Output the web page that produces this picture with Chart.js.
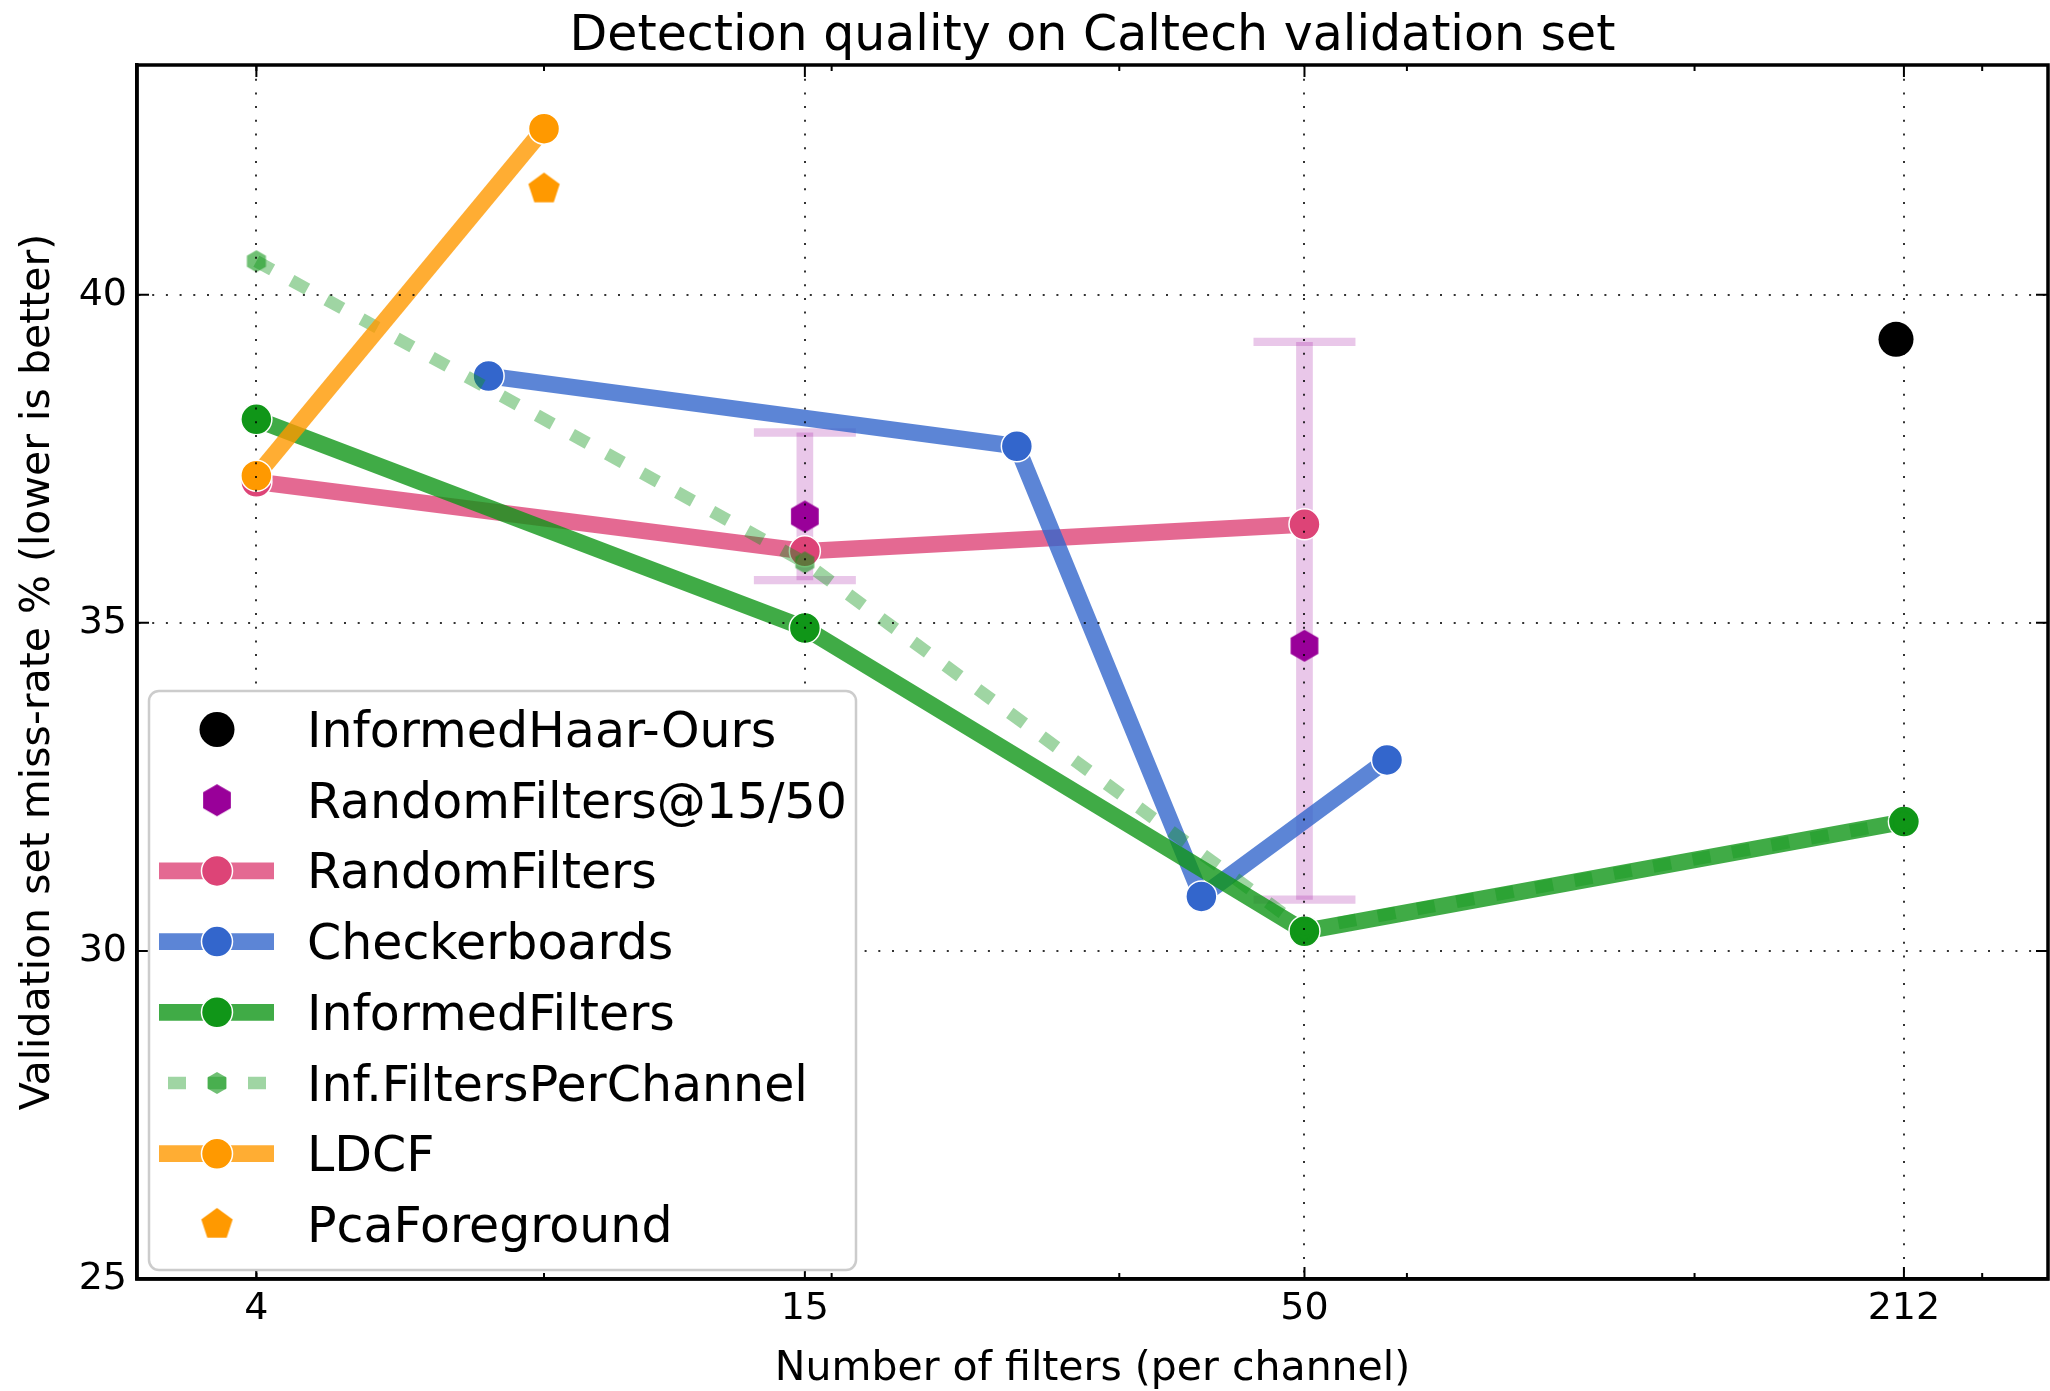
<!DOCTYPE html>
<html>
<head>
<meta charset="utf-8">
<script src="https://cdn.jsdelivr.net/npm/chart.js@4.4.0/dist/chart.umd.min.js"></script>
<style>
html, body { margin: 0; padding: 0; background: #ffffff; }
#wrap { width: 2050px; height: 1391px; position: relative; }
</style>
</head>
<body>
<div id="wrap"><canvas id="c" width="2050" height="1391"></canvas></div>
<script>
// ---------------- data ----------------
const titleText = 'Detection quality on Caltech validation set';
const xLabel = 'Number of filters (per channel)';
const yLabel = 'Validation set miss-rate % (lower is better)';

const xTicks = [4, 15, 50, 212];
const xMinorTicks = [4, 8, 16, 32, 64, 128, 256];
const yTicks = [25, 30, 35, 40];
const xRange = [3, 300];
const yRange = [25, 43.5];

const seriesNames = ['InformedHaar-Ours', 'RandomFilters@15/50', 'RandomFilters', 'Checkerboards',
                     'InformedFilters', 'Inf.FiltersPerChannel', 'LDCF', 'PcaForeground'];

const haarX = [208];
const haarY = [39.32];

const randomAtX = [15, 50];
const randomAtY = [36.62, 34.65];
const randomAtLow = [35.65, 30.78];
const randomAtHigh = [37.90, 39.28];

const randomX = [4, 15, 50];
const randomY = [37.15, 36.09, 36.50];

const checkerX = [7, 25, 39, 61];
const checkerY = [38.76, 37.69, 30.83, 32.91];

const informedX = [4, 15, 50, 212];
const informedY = [38.10, 34.92, 30.30, 31.97];

const perChannelX = [4, 15, 50, 212];
const perChannelY = [40.51, 35.92, 30.33, 31.97];

const ldcfX = [4, 8];
const ldcfY = [37.24, 42.53];

const pcaX = [8];
const pcaY = [41.61];

// ---------------- helpers ----------------
const FONT = 'DejaVu Sans';
Chart.defaults.font.family = FONT;

function pts(xs, ys) { return xs.map((x, i) => ({ x: x, y: ys[i] })); }

function polyCanvas(n, r, fill) {
  const pad = 2;
  const size = Math.ceil(2 * r + 2 * pad);
  const c = document.createElement('canvas');
  c.width = size; c.height = size;
  const g = c.getContext('2d');
  g.beginPath();
  for (let k = 0; k < n; k++) {
    const a = -Math.PI / 2 + k * 2 * Math.PI / n;
    const px = size / 2 + r * Math.cos(a), py = size / 2 + r * Math.sin(a);
    if (k === 0) g.moveTo(px, py); else g.lineTo(px, py);
  }
  g.closePath();
  g.fillStyle = fill;
  g.fill();
  return c;
}

const hexPurple = polyCanvas(6, 16, '#990099');
const hexGreenSmall = polyCanvas(6, 11, 'rgba(16,150,24,0.6)');
const pentOrange = polyCanvas(5, 16.5, '#ff9900');

function lineSeries(label, data, lineColor, markColor, order) {
  return {
    label: label, data: data, showLine: true,
    borderColor: lineColor, borderWidth: 16.7,
    borderJoinStyle: 'round', borderCapStyle: 'butt',
    pointStyle: 'circle', pointRadius: 15.5,
    pointBackgroundColor: markColor, pointBorderColor: '#ffffff', pointBorderWidth: 1.5,
    tension: 0, order: order
  };
}

const datasets = [
  { label: seriesNames[0], data: pts(haarX, haarY), showLine: false,
    pointStyle: 'circle', pointRadius: 17.5, pointBackgroundColor: '#000000',
    pointBorderColor: '#000000', pointBorderWidth: 0, borderColor: '#000000', order: 8 },
  { label: seriesNames[1], data: pts(randomAtX, randomAtY), showLine: false,
    pointStyle: hexPurple, pointRadius: 16, borderColor: '#990099', order: 7,
    errLow: randomAtLow, errHigh: randomAtHigh },
  lineSeries(seriesNames[2], pts(randomX, randomY), 'rgba(221,68,119,0.8)', '#dd4477', 6),
  lineSeries(seriesNames[3], pts(checkerX, checkerY), 'rgba(51,102,204,0.8)', '#3366cc', 5),
  lineSeries(seriesNames[4], pts(informedX, informedY), 'rgba(16,150,24,0.8)', '#109618', 4),
  { label: seriesNames[5], data: pts(perChannelX, perChannelY), showLine: true,
    borderColor: 'rgba(16,150,24,0.4)', borderWidth: 12.5, borderDash: [18, 22],
    borderCapStyle: 'butt', borderJoinStyle: 'round',
    pointStyle: hexGreenSmall, pointRadius: 11, tension: 0, order: 3 },
  lineSeries(seriesNames[6], pts(ldcfX, ldcfY), 'rgba(255,153,0,0.8)', '#ff9900', 2),
  { label: seriesNames[7], data: pts(pcaX, pcaY), showLine: false,
    pointStyle: pentOrange, pointRadius: 16.5, borderColor: '#ff9900', order: 1 }
];

function drawMarker(ctx, ds, x, y) {
  const st = ds.pointStyle;
  if (st && typeof st === 'object') {
    ctx.drawImage(st, x - st.width / 2, y - st.height / 2, st.width, st.height);
    return;
  }
  ctx.beginPath();
  ctx.arc(x, y, ds.pointRadius, 0, Math.PI * 2);
  ctx.fillStyle = ds.pointBackgroundColor;
  ctx.fill();
  if (ds.pointBorderWidth) {
    ctx.lineWidth = ds.pointBorderWidth;
    ctx.strokeStyle = ds.pointBorderColor;
    ctx.stroke();
  }
}

function zeroPad(s) { s.paddingLeft = 0; s.paddingRight = 0; s.paddingTop = 0; s.paddingBottom = 0; }

const decorPlugin = {
  id: 'decor',
  beforeDatasetsDraw(chart) {
    const ctx = chart.ctx, xs = chart.scales.x, ys = chart.scales.y;
    ctx.save();
    chart.data.datasets.forEach(ds => {
      if (!ds.errLow) return;
      ds.data.forEach((p, i) => {
        const px = xs.getPixelForValue(p.x);
        const y1 = ys.getPixelForValue(ds.errLow[i]);
        const y2 = ys.getPixelForValue(ds.errHigh[i]);
        ctx.strokeStyle = 'rgba(153,0,153,0.22)';
        ctx.lineCap = 'butt';
        ctx.lineWidth = 16.7;
        ctx.beginPath(); ctx.moveTo(px, y1); ctx.lineTo(px, y2); ctx.stroke();
        ctx.lineWidth = 8.3;
        ctx.beginPath();
        ctx.moveTo(px - 51, y1); ctx.lineTo(px + 51, y1);
        ctx.moveTo(px - 51, y2); ctx.lineTo(px + 51, y2);
        ctx.stroke();
      });
    });
    ctx.restore();
  },
  afterDraw(chart) {
    const ctx = chart.ctx, a = chart.chartArea, xs = chart.scales.x, ys = chart.scales.y;
    ctx.save();
    // title, centred over the plot area
    ctx.fillStyle = '#000000';
    ctx.font = '49px "' + FONT + '"';
    ctx.textAlign = 'center';
    ctx.textBaseline = 'alphabetic';
    ctx.fillText(titleText, (a.left + a.right) / 2, 50);
    // frame
    ctx.strokeStyle = '#000000';
    ctx.lineWidth = 3.5;
    ctx.strokeRect(a.left, a.top, a.right - a.left, a.bottom - a.top);
    // inside ticks
    ctx.lineWidth = 2;
    const vt = (x, len) => {
      ctx.beginPath();
      ctx.moveTo(x, a.bottom); ctx.lineTo(x, a.bottom - len);
      ctx.moveTo(x, a.top); ctx.lineTo(x, a.top + len);
      ctx.stroke();
    };
    xTicks.forEach(v => vt(xs.getPixelForValue(v), 12));
    xMinorTicks.forEach(v => vt(xs.getPixelForValue(v), 6));
    yTicks.forEach(v => {
      const y = ys.getPixelForValue(v);
      ctx.beginPath();
      ctx.moveTo(a.left, y); ctx.lineTo(a.left + 12, y);
      ctx.moveTo(a.right, y); ctx.lineTo(a.right - 12, y);
      ctx.stroke();
    });
    // legend
    const L = { x0: 149, y0: 691, x1: 856, y1: 1270, r: 10 };
    ctx.beginPath();
    ctx.moveTo(L.x0 + L.r, L.y0);
    ctx.arcTo(L.x1, L.y0, L.x1, L.y1, L.r);
    ctx.arcTo(L.x1, L.y1, L.x0, L.y1, L.r);
    ctx.arcTo(L.x0, L.y1, L.x0, L.y0, L.r);
    ctx.arcTo(L.x0, L.y0, L.x1, L.y0, L.r);
    ctx.closePath();
    ctx.fillStyle = '#ffffff';
    ctx.fill();
    ctx.strokeStyle = '#cccccc';
    ctx.lineWidth = 2.5;
    ctx.stroke();

    const rowY0 = 729.5, rowStep = 70.7, markX = 217, textX = 307;
    chart.data.datasets.forEach((ds, i) => {
      const y = rowY0 + i * rowStep;
      if (ds.showLine) {
        ctx.save();
        ctx.lineCap = 'butt';
        ctx.lineWidth = ds.borderWidth;
        ctx.strokeStyle = ds.borderColor;
        const dashed = ds.borderDash && ds.borderDash.length;
        ctx.setLineDash(dashed ? ds.borderDash : []);
        ctx.beginPath();
        ctx.moveTo(dashed ? 168 : 159, y);
        ctx.lineTo(274, y);
        ctx.stroke();
        ctx.restore();
      }
      drawMarker(ctx, ds, markX, y);
      ctx.fillStyle = '#000000';
      ctx.font = '49px "' + FONT + '"';
      ctx.textAlign = 'left';
      ctx.textBaseline = 'alphabetic';
      ctx.fillText(ds.label, textX, y + 17.5);
    });
    ctx.restore();
  }
};

const gridStyle = { color: 'rgba(0,0,0,0.8)', lineWidth: 2, drawTicks: false, z: 1 };
const borderStyle = { display: true, color: '#000000', width: 3.5, dash: [2, 11.7], z: 1 };

new Chart(document.getElementById('c'), {
  type: 'line',
  data: { datasets: datasets },
  plugins: [decorPlugin],
  options: {
    responsive: false,
    maintainAspectRatio: false,
    devicePixelRatio: 1,
    animation: false,
    events: [],
    layout: { autoPadding: false, padding: { left: 0, right: 2, top: 65, bottom: 0 } },
    plugins: {
      legend: { display: false },
      tooltip: { enabled: false },
      title: { display: false }
    },
    scales: {
      x: {
        type: 'logarithmic', position: 'bottom',
        min: xRange[0], max: xRange[1],
        afterBuildTicks: (s) => { s.ticks = xTicks.map(v => ({ value: v })); },
        afterFit: (s) => { s.height = 112; zeroPad(s); },
        ticks: {
          color: '#000000', padding: 11, autoSkip: false, maxRotation: 0,
          font: { family: FONT, size: 38, lineHeight: 1 },
          callback: (v) => String(v)
        },
        grid: gridStyle,
        border: borderStyle,
        title: {
          display: true, text: xLabel, color: '#000000',
          font: { family: FONT, size: 41, lineHeight: 1 },
          padding: { top: 0, bottom: 1.5 }
        }
      },
      y: {
        type: 'linear', position: 'left',
        min: yRange[0], max: yRange[1],
        afterBuildTicks: (s) => { s.ticks = yTicks.map(v => ({ value: v })); },
        afterFit: (s) => { s.width = 137; zeroPad(s); },
        ticks: {
          color: '#000000', padding: 10,
          font: { family: FONT, size: 38, lineHeight: 1 },
          callback: (v) => String(v)
        },
        grid: gridStyle,
        border: borderStyle,
        title: {
          display: true, text: yLabel, color: '#000000',
          font: { family: FONT, size: 41, lineHeight: 1 },
          padding: { top: 18, bottom: 0 }
        }
      }
    }
  }
});
</script>
</body>
</html>
